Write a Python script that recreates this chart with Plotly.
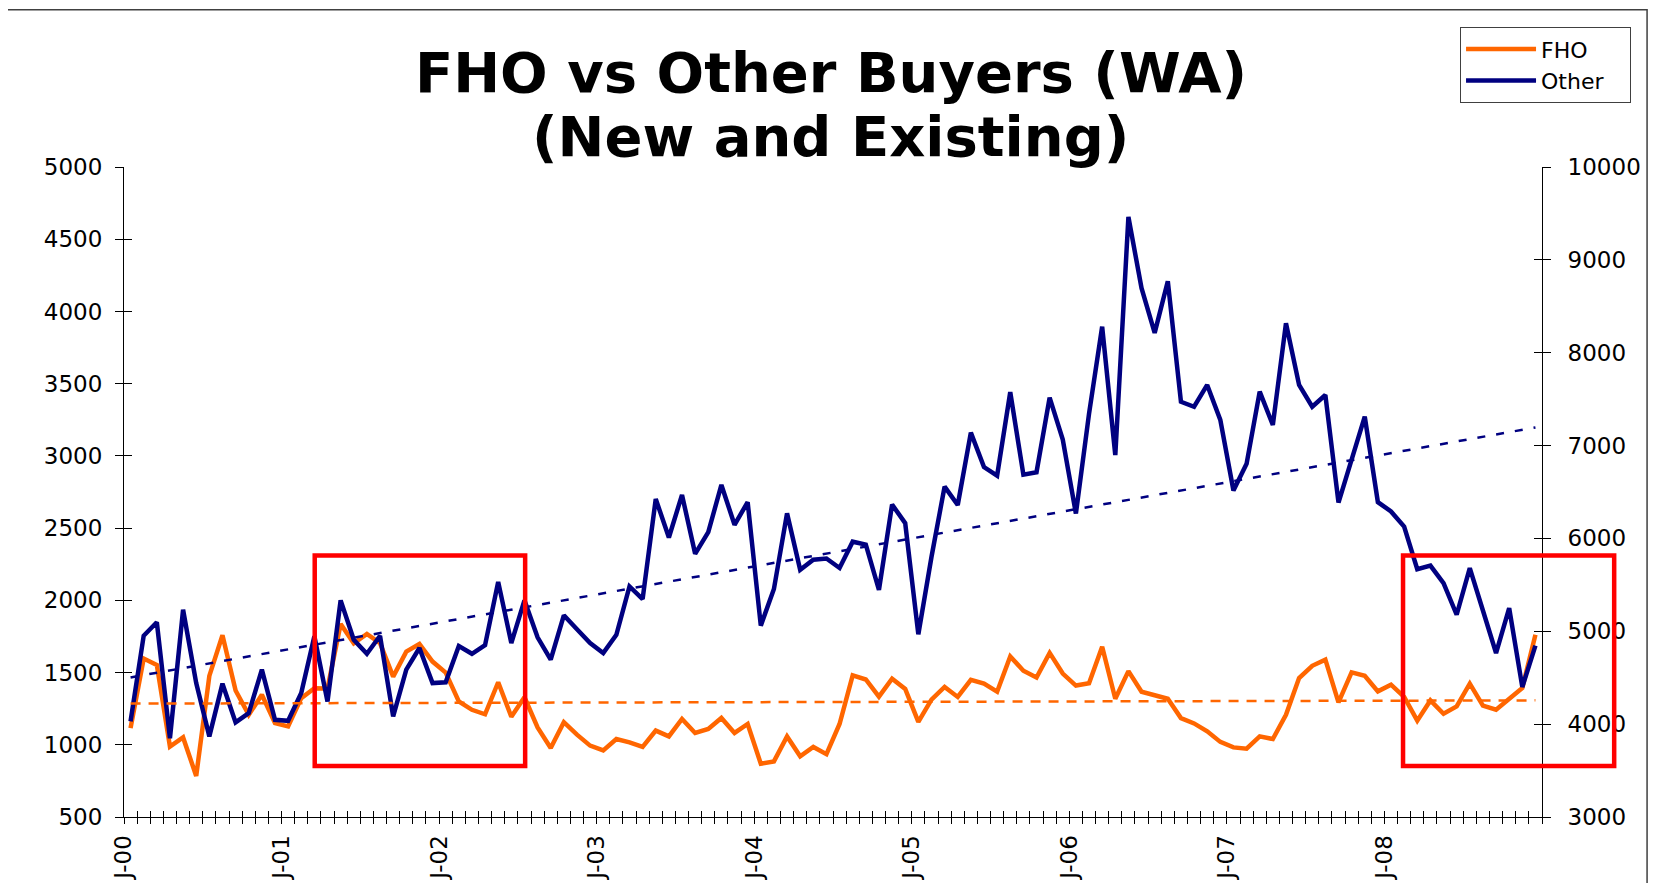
import numpy as np
import plotly.graph_objects as go

# ============================================================
# Data: monthly buyers, Jan 2000 - Dec 2008 (WA)
# ============================================================

fho = [
    1115, 1597, 1553, 988, 1051, 784, 1477, 1758, 1376, 1207, 1346, 1150,
    1127, 1323, 1392, 1390, 1836, 1703, 1767, 1703, 1472, 1645, 1698, 1576,
    1500, 1300, 1242, 1211, 1433, 1194, 1329, 1120, 978, 1156, 1070, 994,
    961, 1040, 1017, 985, 1098, 1058, 1179, 1082, 1109, 1186, 1082, 1144,
    869, 885, 1058, 920, 985, 935, 1144, 1480, 1452, 1333, 1457, 1386,
    1159, 1312, 1400, 1331, 1450, 1423, 1367, 1612, 1513, 1466, 1636, 1493,
    1410, 1426, 1679, 1319, 1510, 1367, 1343, 1319, 1185, 1148, 1093, 1020,
    982, 973, 1058, 1040, 1208, 1462, 1547, 1589, 1293, 1501, 1478, 1370,
    1416, 1331, 1167, 1307, 1215, 1266, 1423, 1271, 1243, 1317, 1393, 1762,
]

other = [
    4030, 4952, 5097, 3849, 5232, 4442, 3868, 4436, 4019, 4118, 4587, 4047,
    4036, 4335, 4946, 4244, 5333, 4909, 4758, 4952, 4083, 4587, 4820, 4442,
    4450, 4842, 4758, 4851, 5532, 4873, 5333, 4935, 4694, 5172, 5022, 4873,
    4766, 4963, 5483, 5347, 6425, 6010, 6469, 5834, 6068, 6576, 6147, 6391,
    5061, 5455, 6271, 5662, 5770, 5784, 5682, 5965, 5934, 5445, 6365, 6164,
    4968, 5800, 6558, 6360, 7139, 6769, 6676, 7576, 6687, 6713, 7517, 7065,
    6268, 7343, 8280, 6898, 9462, 8695, 8214, 8770, 7472, 7418, 7653, 7276,
    6516, 6803, 7581, 7222, 8317, 7653, 7419, 7545, 6386, 6845, 7312, 6391,
    6290, 6128, 5669, 5708, 5518, 5178, 5680, 5224, 4766, 5249, 4400, 4845,
]

year_labels = ["J-00", "J-01", "J-02", "J-03", "J-04", "J-05", "J-06", "J-07", "J-08"]

ORANGE = "#FF6600"
NAVY = "#000080"
FONT = "DejaVu Sans"

# ============================================================
# Axis helpers
# ============================================================

months = np.arange(len(fho))
n = len(months)
boundaries = [i - 0.5 for i in range(n + 1)]
tick_text = [year_labels[i // 12] if i % 12 == 0 and i // 12 < len(year_labels) else ""
             for i in range(n + 1)]

# linear trendlines (as in the spreadsheet)
fho_trend = np.polyval(np.polyfit(months, fho, 1), months)
other_trend = np.polyval(np.polyfit(months, other, 1), months)

# ============================================================
# Figure
# ============================================================

fig = go.Figure()

fig.add_trace(go.Scatter(
    x=months, y=fho, name="FHO", mode="lines",
    line=dict(color=ORANGE, width=4.5),
    xaxis="x", yaxis="y"
))

fig.add_trace(go.Scatter(
    x=months, y=other, name="Other\u00a0\u00a0\u00a0", mode="lines",
    line=dict(color=NAVY, width=4.5),
    xaxis="x", yaxis="y2"
))

fig.add_trace(go.Scatter(
    x=months, y=fho_trend, mode="lines", showlegend=False,
    line=dict(color=ORANGE, width=2.5, dash="10px,8px"),
    xaxis="x2", yaxis="y3"
))

fig.add_trace(go.Scatter(
    x=months, y=other_trend, mode="lines", showlegend=False,
    line=dict(color=NAVY, width=2.5, dash="8px,11px"),
    xaxis="x2", yaxis="y4"
))

tickfont = dict(family=FONT, size=23, color="black")
plain = dict(showgrid=False, zeroline=False, automargin=False)

# the page adds an 8px body margin, so the margins are shifted by 8px
fig.update_layout(
    width=1656,
    height=883,
    margin=dict(l=116, r=122, t=159, b=74, autoexpand=False),
    paper_bgcolor="white",
    plot_bgcolor="white",
    font=dict(family=FONT, color="black"),
    showlegend=True,
    legend=dict(
        x=0.9422, y=1.2151, xanchor="left", yanchor="top",
        bordercolor="#404040", borderwidth=1, bgcolor="white",
        font=dict(family=FONT, size=22, color="black"),
        itemwidth=70
    ),
    xaxis=dict(
        range=[-0.5, n - 0.5], tickvals=boundaries, ticktext=tick_text,
        tickangle=-90, ticks="outside", ticklen=6, tickcolor="black",
        showline=True, linecolor="black", linewidth=1,
        tickfont=tickfont, ticklabelstandoff=2, **plain
    ),
    xaxis2=dict(
        overlaying="x", anchor="y", side="bottom",
        range=[-0.5, n - 0.5], tickvals=boundaries,
        ticks="inside", ticklen=6, tickcolor="black",
        showticklabels=False, showline=False, **plain
    ),
    yaxis=dict(
        range=[500, 5000], tick0=500, dtick=500, tickformat="d",
        ticks="outside", ticklen=8, tickcolor="black",
        showline=True, linecolor="black", linewidth=1,
        tickfont=tickfont, ticklabelstandoff=8, **plain
    ),
    yaxis2=dict(
        overlaying="y", anchor="x", side="right",
        range=[3000, 10000], tick0=3000, dtick=1000, tickformat="d",
        ticks="outside", ticklen=8, tickcolor="black",
        showline=True, linecolor="black", linewidth=1,
        tickfont=tickfont, ticklabelstandoff=12, **plain
    ),
    yaxis3=dict(
        overlaying="y", anchor="x", side="left",
        range=[500, 5000], tick0=500, dtick=500,
        ticks="inside", ticklen=8, tickcolor="black",
        showticklabels=False, showline=False, **plain
    ),
    yaxis4=dict(
        overlaying="y", anchor="x", side="right",
        range=[3000, 10000], tick0=3000, dtick=1000,
        ticks="inside", ticklen=8, tickcolor="black",
        showticklabels=False, showline=False, **plain
    ),
)

# ============================================================
# Title (two lines)
# ============================================================

title_font = dict(family=FONT, size=56, color="black")
fig.add_annotation(
    text="<b>FHO vs Other Buyers (WA)</b>", xref="paper", yref="paper",
    x=0.4985, y=1.1460, xanchor="center", yanchor="middle",
    showarrow=False, font=title_font
)
fig.add_annotation(
    text="<b>(New and Existing)</b>", xref="paper", yref="paper",
    x=0.4985, y=1.0474, xanchor="center", yanchor="middle",
    showarrow=False, font=title_font
)

# ============================================================
# Highlight boxes and chart frame
# ============================================================

for x0, x1 in [(0.1345, 0.2829), (0.9020, 1.0509)]:
    fig.add_shape(
        type="rect", xref="x domain", yref="y domain",
        x0=x0, x1=x1, y0=0.0786, y1=0.4023,
        line=dict(color="#FF0000", width=4.5), fillcolor="rgba(0,0,0,0)"
    )

fig.add_shape(
    type="rect", xref="paper", yref="paper",
    x0=-0.12, x1=1.0741, y0=-0.2, y1=1.2420,
    line=dict(color="#404040", width=1.5), fillcolor="rgba(0,0,0,0)"
)

fig.write_html("out.html")
